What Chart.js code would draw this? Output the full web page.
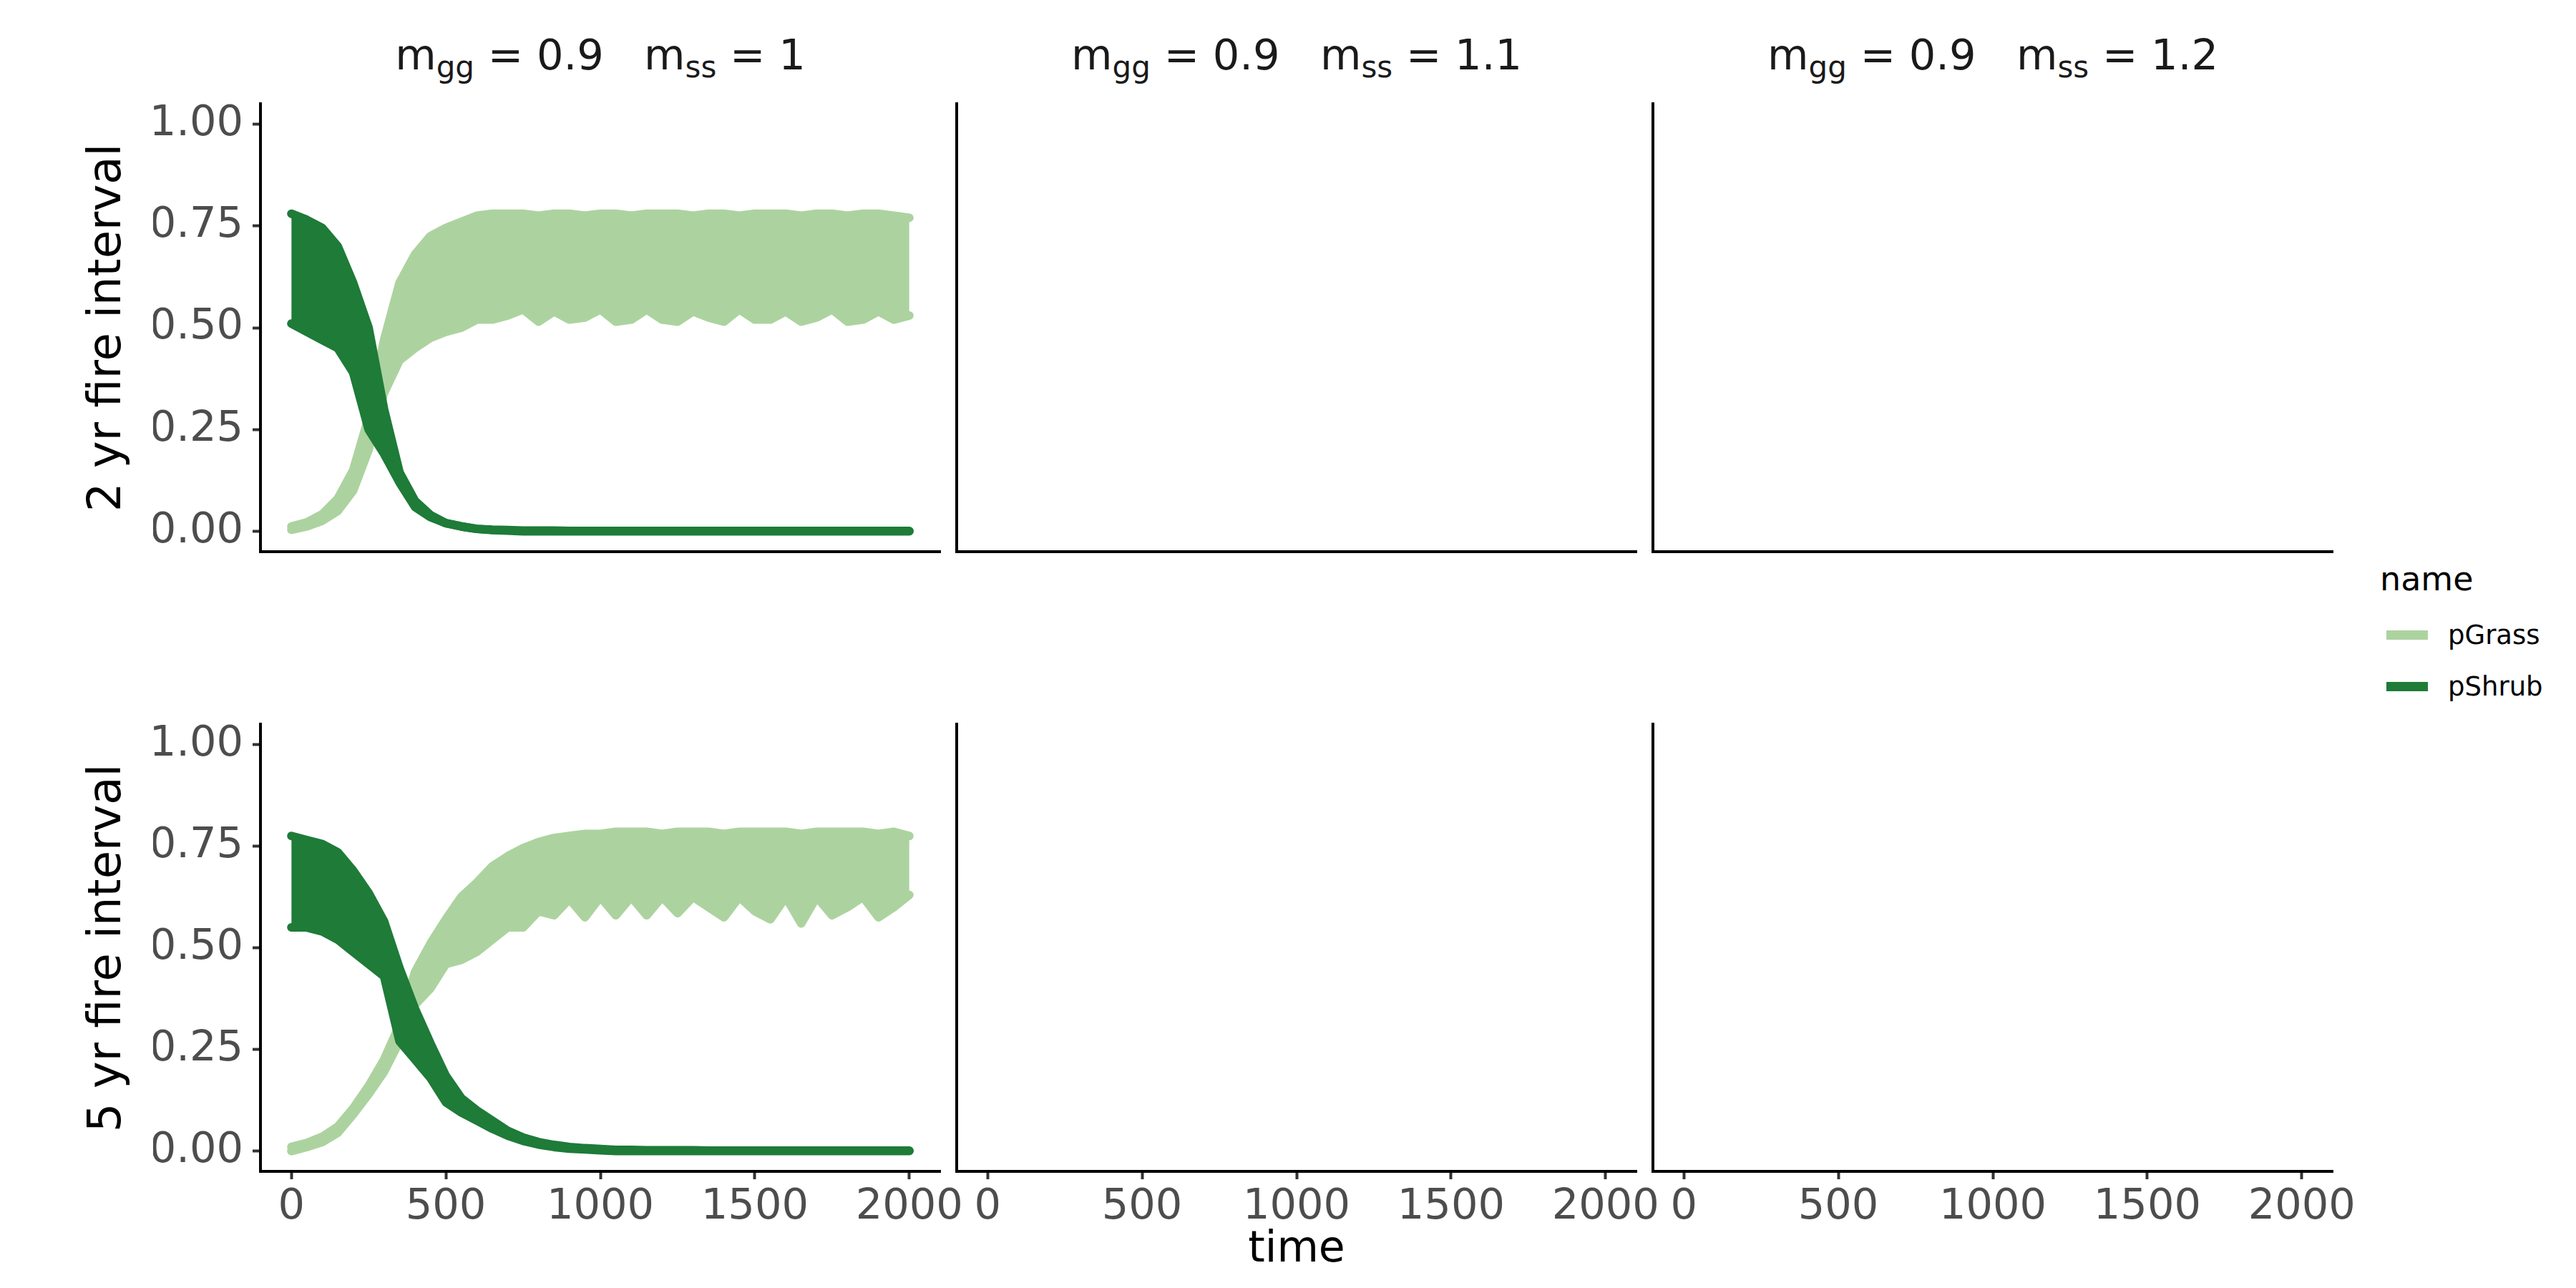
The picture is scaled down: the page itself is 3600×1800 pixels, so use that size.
<!DOCTYPE html>
<html>
<head>
<meta charset="utf-8">
<script src="https://cdn.jsdelivr.net/npm/chart.js@4.4.0/dist/chart.umd.min.js"></script>
<style>
  body { margin: 0; background: #fff; width: 3600px; height: 1800px; position: relative; overflow: hidden; font-family: 'DejaVu Sans', sans-serif; }
  canvas { position: absolute; }
  .lbl { position: absolute; white-space: nowrap; line-height: 1; transform: translate(-50%, -50%); }
  .strip { font-size: 59px; color: #1A1A1A; }
  .strip .sub { font-size: 42px; position: relative; top: 11px; }
  .ytitle { font-size: 64px; color: #000; transform: translate(-50%, -50%) rotate(-90deg); }
  .xtitle { font-size: 60px; color: #000; }
  .legtitle { position: absolute; font-size: 46px; line-height: 1; color: #000; transform: translateY(-50%); }
  .legtext { position: absolute; font-size: 37px; line-height: 1; color: #000; transform: translateY(-50%); }
  .legkey { position: absolute; width: 58px; height: 13px; }
</style>
</head>
<body>
<script>
// time steps (years) the envelopes were read at
var time = [0, 50, 100, 150, 200, 250, 300, 350, 400, 450, 500, 550, 600, 650, 700, 750, 800, 850, 900, 950,
            1000, 1050, 1100, 1150, 1200, 1250, 1300, 1350, 1400, 1450, 1500, 1550, 1600, 1650, 1700, 1750, 1800, 1850, 1900, 1950, 2000];

var xTicks = [0, 500, 1000, 1500, 2000];
var yTicks = [0, 0.25, 0.5, 0.75, 1];

var seriesNames = ['pGrass', 'pShrub'];
var seriesColors = ['#acd39f', '#1e7b38'];

var stripMgg = ['0.9', '0.9', '0.9'];
var stripMss = ['1', '1.1', '1.2'];
var rowLabels = ['2 yr fire interval', '5 yr fire interval'];

// 2 yr fire interval: upper / lower envelope of the oscillating series
var grassHi2 = [0.012, 0.022, 0.042, 0.08, 0.15, 0.28, 0.47, 0.61, 0.68, 0.725, 0.745, 0.76, 0.775, 0.78, 0.78,
                0.78, 0.775, 0.78, 0.78, 0.775, 0.78, 0.78, 0.775, 0.78, 0.78, 0.78, 0.775, 0.78, 0.78, 0.775, 0.78, 0.78, 0.78, 0.775, 0.78, 0.78, 0.775, 0.78, 0.78, 0.775, 0.77];
var grassLo2 = [0.004, 0.012, 0.026, 0.05, 0.10, 0.20, 0.34, 0.42, 0.45, 0.475, 0.49, 0.50, 0.52, 0.52, 0.53,
                0.545, 0.515, 0.54, 0.52, 0.525, 0.545, 0.515, 0.52, 0.545, 0.52, 0.515, 0.54, 0.525, 0.515, 0.545, 0.52, 0.52, 0.54, 0.515, 0.525, 0.545, 0.515, 0.52, 0.54, 0.52, 0.53];
var shrubHi2 = [0.78, 0.765, 0.745, 0.70, 0.61, 0.50, 0.30, 0.145, 0.075, 0.04, 0.02, 0.012, 0.006, 0.004, 0.003,
                0.002, 0.002, 0.002, 0.001, 0.001, 0.001, 0.001, 0.001, 0.001, 0.001, 0.001, 0.001, 0.001, 0.001, 0.001, 0.001, 0.001, 0.001, 0.001, 0.001, 0.001, 0.001, 0.001, 0.001, 0.001, 0.001];
var shrubLo2 = [0.51, 0.49, 0.47, 0.45, 0.39, 0.25, 0.19, 0.12, 0.06, 0.035, 0.02, 0.012, 0.006, 0.003, 0.002,
                0, 0, 0, 0, 0, 0, 0, 0, 0, 0, 0, 0, 0, 0, 0, 0, 0, 0, 0, 0, 0, 0, 0, 0, 0, 0];

// 5 yr fire interval
var grassHi5 = [0.01, 0.02, 0.035, 0.06, 0.105, 0.16, 0.225, 0.31, 0.44, 0.51, 0.57, 0.625, 0.66, 0.70, 0.725, 0.745, 0.76, 0.77, 0.775,
                0.78, 0.78, 0.785, 0.785, 0.785, 0.78, 0.785, 0.785, 0.785, 0.78, 0.785, 0.785, 0.785, 0.785, 0.78, 0.785, 0.785, 0.785, 0.785, 0.78, 0.785, 0.775];
var grassLo5 = [0.0, 0.01, 0.022, 0.045, 0.09, 0.14, 0.195, 0.27, 0.36, 0.40, 0.46, 0.47, 0.49, 0.52, 0.55, 0.55, 0.59, 0.58, 0.62,
                0.575, 0.625, 0.58, 0.625, 0.58, 0.625, 0.585, 0.625, 0.6, 0.575, 0.625, 0.59, 0.57, 0.625, 0.56, 0.625, 0.58, 0.6, 0.625, 0.575, 0.6, 0.63];
var shrubHi5 = [0.775, 0.765, 0.755, 0.735, 0.69, 0.635, 0.565, 0.45, 0.35, 0.265, 0.185, 0.13, 0.10, 0.075, 0.05, 0.033, 0.022, 0.015, 0.01, 0.007, 0.005,
                0.003, 0.003, 0.002, 0.002, 0.002, 0.002, 0.001, 0.001, 0.001, 0.001, 0.001, 0.001, 0.001, 0.001, 0.001, 0.001, 0.001, 0.001, 0.001, 0.001];
var shrubLo5 = [0.55, 0.55, 0.54, 0.52, 0.49, 0.46, 0.43, 0.27, 0.225, 0.18, 0.12, 0.095, 0.075, 0.055, 0.038, 0.025, 0.016, 0.01, 0.006, 0.004, 0.002,
                0, 0, 0, 0, 0, 0, 0, 0, 0, 0, 0, 0, 0, 0, 0, 0, 0, 0, 0, 0];

// facet layout (page pixels)
var colLeft = [364, 1337, 2310];
var panelW = 950;
var rowTop = [145, 1012];
var rowBottom = [771, 1637];
var padL = 150, padR = 40, padT = 10, padB = 100;

function pts(arr) {
  return time.map(function (t, i) { return { x: t, y: arr[i] }; });
}

function band(hi, lo, color) {
  var common = { borderColor: color, backgroundColor: color, borderWidth: 12, pointRadius: 0,
                 borderJoinStyle: 'round', borderCapStyle: 'round', tension: 0 };
  return [
    Object.assign({ data: pts(hi), fill: false }, common),
    Object.assign({ data: pts(lo), fill: '-1' }, common)
  ];
}

var tickFont = { family: 'DejaVu Sans', size: 59 };

// keep every panel's plot area exactly where the facet grid puts it
function noPadding(s) {
  s.paddingTop = 0; s.paddingBottom = 0; s.paddingLeft = 0; s.paddingRight = 0;
}

function makePanel(r, c, datasets) {
  var cv = document.createElement('canvas');
  var w = padL + panelW + padR;
  var h = (rowBottom[r] - rowTop[r]) + padT + padB;
  cv.width = w; cv.height = h;
  cv.style.left = (colLeft[c] - padL) + 'px';
  cv.style.top = (rowTop[r] - padT) + 'px';
  cv.style.width = w + 'px'; cv.style.height = h + 'px';
  document.body.appendChild(cv);
  var showX = r === 1, showY = c === 0;
  new Chart(cv.getContext('2d'), {
    type: 'line',
    data: { datasets: datasets },
    options: {
      responsive: false, animation: false, devicePixelRatio: 1,
      layout: { padding: { top: padT, right: padR, left: 0, bottom: 0 } },
      plugins: { legend: { display: false }, tooltip: { enabled: false } },
      scales: {
        x: {
          type: 'linear', min: -100, max: 2100,
          afterBuildTicks: function (s) { s.ticks = xTicks.map(function (v) { return { value: v }; }); },
          afterFit: function (s) { s.height = padB; noPadding(s); },
          ticks: { display: showX, autoSkip: false, maxRotation: 0, padding: 4, color: '#4D4D4D', font: tickFont,
                   callback: function (v) { return String(v); } },
          grid: { drawOnChartArea: false, drawTicks: showX, tickLength: 11, tickWidth: 4, tickColor: '#333333' },
          border: { display: true, color: '#000', width: 4 }
        },
        y: {
          type: 'linear', min: -0.05, max: 1.05,
          afterBuildTicks: function (s) { s.ticks = yTicks.map(function (v) { return { value: v }; }); },
          afterFit: function (s) { s.width = padL; noPadding(s); },
          ticks: { display: showY, autoSkip: false, padding: 13, color: '#4D4D4D', font: tickFont,
                   callback: function (v) { return v.toFixed(2); } },
          grid: { drawOnChartArea: false, drawTicks: showY, tickLength: 11, tickWidth: 4, tickColor: '#333333' },
          border: { display: true, color: '#000', width: 4 }
        }
      }
    }
  });
}

// shrub first so it is drawn on top of grass
var panelData = [
  band(shrubHi2, shrubLo2, seriesColors[1]).concat(band(grassHi2, grassLo2, seriesColors[0])),
  band(shrubHi5, shrubLo5, seriesColors[1]).concat(band(grassHi5, grassLo5, seriesColors[0]))
];

for (var r = 0; r < 2; r++) {
  for (var c = 0; c < 3; c++) {
    makePanel(r, c, c === 0 ? panelData[r] : []);
  }
}

function addText(cls, html, x, y) {
  var d = document.createElement('div');
  d.className = cls;
  d.innerHTML = html;
  d.style.left = x + 'px';
  d.style.top = y + 'px';
  document.body.appendChild(d);
  return d;
}

// facet strips
for (var c = 0; c < 3; c++) {
  addText('lbl strip', 'm<span class="sub">gg</span> = ' + stripMgg[c] + '&nbsp;&nbsp;&nbsp;m<span class="sub">ss</span> = ' + stripMss[c],
          colLeft[c] + panelW / 2, 76);
}
// row titles
for (var r = 0; r < 2; r++) {
  addText('lbl ytitle', rowLabels[r], 146, (rowTop[r] + rowBottom[r]) / 2);
}
addText('lbl xtitle', 'time', colLeft[1] + panelW / 2, 1742);

// legend
addText('legtitle', 'name', 3326, 809);
var legY = [887, 959];
for (var i = 0; i < seriesNames.length; i++) {
  var k = document.createElement('div');
  k.className = 'legkey';
  k.style.left = '3335px';
  k.style.top = (legY[i] - 6.5) + 'px';
  k.style.background = seriesColors[i];
  document.body.appendChild(k);
  addText('legtext', seriesNames[i], 3421, legY[i]);
}
</script>
</body>
</html>
